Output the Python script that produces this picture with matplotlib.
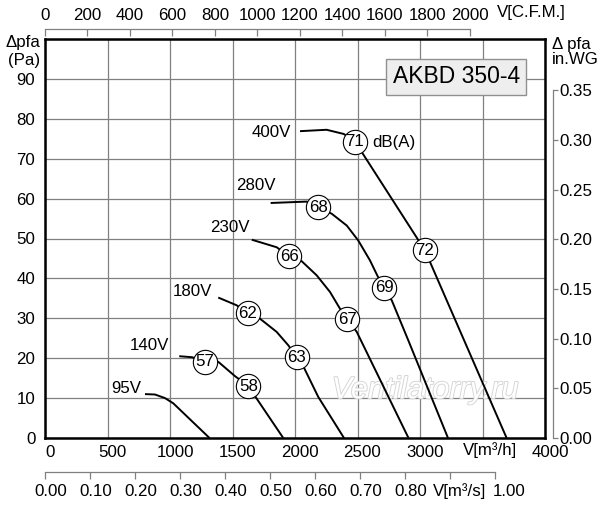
import matplotlib
matplotlib.use('Agg')
import matplotlib.pyplot as plt
import matplotlib.patheffects as pe
from matplotlib.transforms import ScaledTranslation

plt.rcParams['font.family'] = ['Liberation Sans', 'DejaVu Sans']

# ---- data (flow m3/h, pressure Pa) ----
q_400 = [2040, 2253, 2390, 2480, 3040, 3693]
p_400 = [76.9, 77.25, 76.2, 74.3, 47.0, 0]
q_280 = [1805, 2093, 2187, 2294, 2414, 2506, 2600, 2658, 2712, 2774, 2906, 3224]
p_280 = [58.9, 59.25, 57.8, 56.2, 53.25, 49.5, 44.5, 40.75, 37.6, 34.5, 24.5, 0]
q_230 = [1654, 1854, 1954, 2054, 2174, 2280, 2360, 2418, 2494, 2908]
p_230 = [49.7, 47.8, 45.5, 44.3, 40.75, 36.6, 32.4, 29.7, 26.6, 0]
q_180 = [1386, 1534, 1621, 1720, 1853, 1946, 2013, 2066, 2186, 2392]
p_180 = [35.2, 33.25, 31.3, 29.9, 26.6, 23.25, 20.3, 18.0, 10.3, 0]
q_140 = [1074, 1176, 1280, 1386, 1520, 1627, 1680, 1906]
p_140 = [20.5, 20.25, 19.1, 19.1, 15.5, 13.0, 10.5, 0]
q_95 = [800, 880, 960, 1026, 1316]
p_95 = [11.0, 10.9, 10.0, 8.7, 0]

curves = [(q_400, p_400), (q_280, p_280), (q_230, p_230),
          (q_180, p_180), (q_140, p_140), (q_95, p_95)]

voltage_labels = ['400V', '280V', '230V', '180V', '140V', '95V']
voltage_label_q = [1814, 1684, 1476, 1180, 833, 653]
voltage_label_p = [76.6, 63.25, 52.8, 36.8, 23.25, 12.4]

noise_labels = ['71', '72', '68', '69', '66', '67', '62', '63', '57', '58']
noise_q = [2480, 3040, 2187, 2712, 1954, 2418, 1621, 2013, 1280, 1627]
noise_p = [74.3, 47.0, 57.8, 37.6, 45.5, 29.7, 31.3, 20.3, 19.1, 13.0]

x_ticks = [0, 500, 1000, 1500, 2000, 2500, 3000, 3500, 4000]
x_tick_labels = ['0', '500', '1000', '1500', '2000', '2500', '3000', '', '4000']
y_ticks = [0, 10, 20, 30, 40, 50, 60, 70, 80, 90, 100]
y_tick_labels = ['0', '10', '20', '30', '40', '50', '60', '70', '80', '90', '']
cfm_ticks = [0, 200, 400, 600, 800, 1000, 1200, 1400, 1600, 1800, 2000]
m3s_ticks = [0.0, 0.1, 0.2, 0.3, 0.4, 0.5, 0.6, 0.7, 0.8, 0.9, 1.0]
m3s_tick_labels = ['0.00', '0.10', '0.20', '0.30', '0.40', '0.50', '0.60',
                   '0.70', '0.80', '', '1.00']
inwg_ticks = [0.0, 0.05, 0.10, 0.15, 0.20, 0.25, 0.30, 0.35]
inwg_tick_labels = ['0.00', '0.05', '0.10', '0.15', '0.20', '0.25', '0.30', '0.35']

title = 'AKBD 350-4'

FS = 12.2
W, H = 600, 505
fig = plt.figure(figsize=(6.0, 5.05), dpi=100)
L, R, T, B = 45, 545, 39, 438
ax = fig.add_axes([L / W, 1 - B / H, (R - L) / W, (B - T) / H])
ax.set_xlim(0, 4000)
ax.set_ylim(0, 100)
ax.set_xticks(x_ticks)
ax.set_xticklabels(x_tick_labels)
ax.set_yticks(y_ticks)
ax.set_yticklabels(y_tick_labels)
ax.tick_params(axis='both', length=0, labelsize=FS, colors='black')
ax.tick_params(axis='x', pad=5)
ax.tick_params(axis='y', pad=7)
shift = ScaledTranslation(5 / 100, 0, fig.dpi_scale_trans)
for lab in ax.get_xticklabels():
    lab.set_transform(lab.get_transform() + shift)
ax.grid(True, color='#808080', linewidth=0.9)
ax.set_axisbelow(True)
for s in ax.spines.values():
    s.set_linewidth(1.8)
    s.set_color('black')
    s.set_zorder(5)

# watermark
ax.text(3040, 12.0, 'Ventilatorry.ru', fontsize=22, style='italic', color='white',
        ha='center', va='center', zorder=1,
        path_effects=[pe.withStroke(linewidth=1.3, foreground='#d4d4d4')])

for q, p in curves:
    ax.plot(q, p, color='black', linewidth=1.4, zorder=3, solid_capstyle='butt')

for lab, xq, yp in zip(voltage_labels, voltage_label_q, voltage_label_p):
    ax.text(xq, yp, lab, fontsize=FS, ha='center', va='center', zorder=4)

ax.plot(noise_q, noise_p, 'o', ms=17.5, mfc='white', mec='black', mew=0.8,
        linestyle='none', zorder=4)
for lab, xq, yp in zip(noise_labels, noise_q, noise_p):
    ax.text(xq, yp, lab, fontsize=FS, ha='center', va='center', zorder=6)
ax.text(2620, 74.0, 'dB(A)', fontsize=FS, ha='left', va='center', zorder=6)

ax.text(3290, 90.5, title, fontsize=16.5, ha='center', va='center', zorder=7,
        bbox=dict(boxstyle='square,pad=0.28', facecolor='#eeeeee',
                  edgecolor='#909090', linewidth=1.0))

ax.text(3560, -3.0, 'V[m³/h]', fontsize=FS, ha='center', va='center',
        clip_on=False)

# top CFM axis
top = ax.secondary_xaxis((B - 29) / (B - T),
                         functions=(lambda q: q / 1.699, lambda c: c * 1.699))
top.set_xticks(cfm_ticks)
top.tick_params(axis='x', direction='in', length=5, width=0.9, color='#808080',
                labelsize=FS, pad=4)
top.spines['top'].set_bounds(0, 2000)
top.spines['top'].set_color('#808080')
top.spines['top'].set_linewidth(0.9)
fig.text(497 / W, 1 - 12 / H, 'V[C.F.M.]', fontsize=FS, ha='left', va='center')

# bottom m3/s axis
bot = ax.secondary_xaxis(-(472 - B) / (B - T),
                         functions=(lambda q: q / 3600.0, lambda s: s * 3600.0))
bot.set_xticks(m3s_ticks)
bot.set_xticklabels([])
bot.tick_params(axis='x', direction='out', length=5, width=0.9, color='#808080')
bot.spines['bottom'].set_bounds(0, 1.0)
bot.spines['bottom'].set_color('#808080')
bot.spines['bottom'].set_linewidth(0.9)
for v, lab in zip(m3s_ticks, m3s_tick_labels):
    off = 14 if v == 1.0 else 6
    ax.text(v * 3600.0, 0, lab, fontsize=FS, ha='center', va='center',
            clip_on=False,
            transform=ax.transData + ScaledTranslation(off / 100, -53 / 100,
                                                       fig.dpi_scale_trans))
fig.text(459.5 / W, 1 - 491 / H, 'V[m³/s]', fontsize=FS, ha='center', va='center')

# right in.WG axis
rax = ax.secondary_yaxis((553 - L) / (R - L),
                         functions=(lambda p: p / 249.09, lambda w: w * 249.09))
rax.set_yticks(inwg_ticks)
rax.set_yticklabels(inwg_tick_labels)
rax.tick_params(axis='y', direction='out', length=3.5, width=0.9, color='#808080',
                labelsize=FS, pad=1)
rax.spines['right'].set_bounds(0, 0.35)
rax.spines['right'].set_color('#808080')
rax.spines['right'].set_linewidth(0.9)

# axis captions
fig.text(40 / W, 1 - 43 / H, 'Δpfa', fontsize=FS, ha='right', va='center')
fig.text(40 / W, 1 - 60 / H, '(Pa)', fontsize=FS, ha='right', va='center')
fig.text(552 / W, 1 - 44 / H, 'Δ pfa', fontsize=FS, ha='left', va='center')
fig.text(552 / W, 1 - 60 / H, 'in.WG', fontsize=FS, ha='left', va='center')

fig.savefig('out.png', dpi=100)
